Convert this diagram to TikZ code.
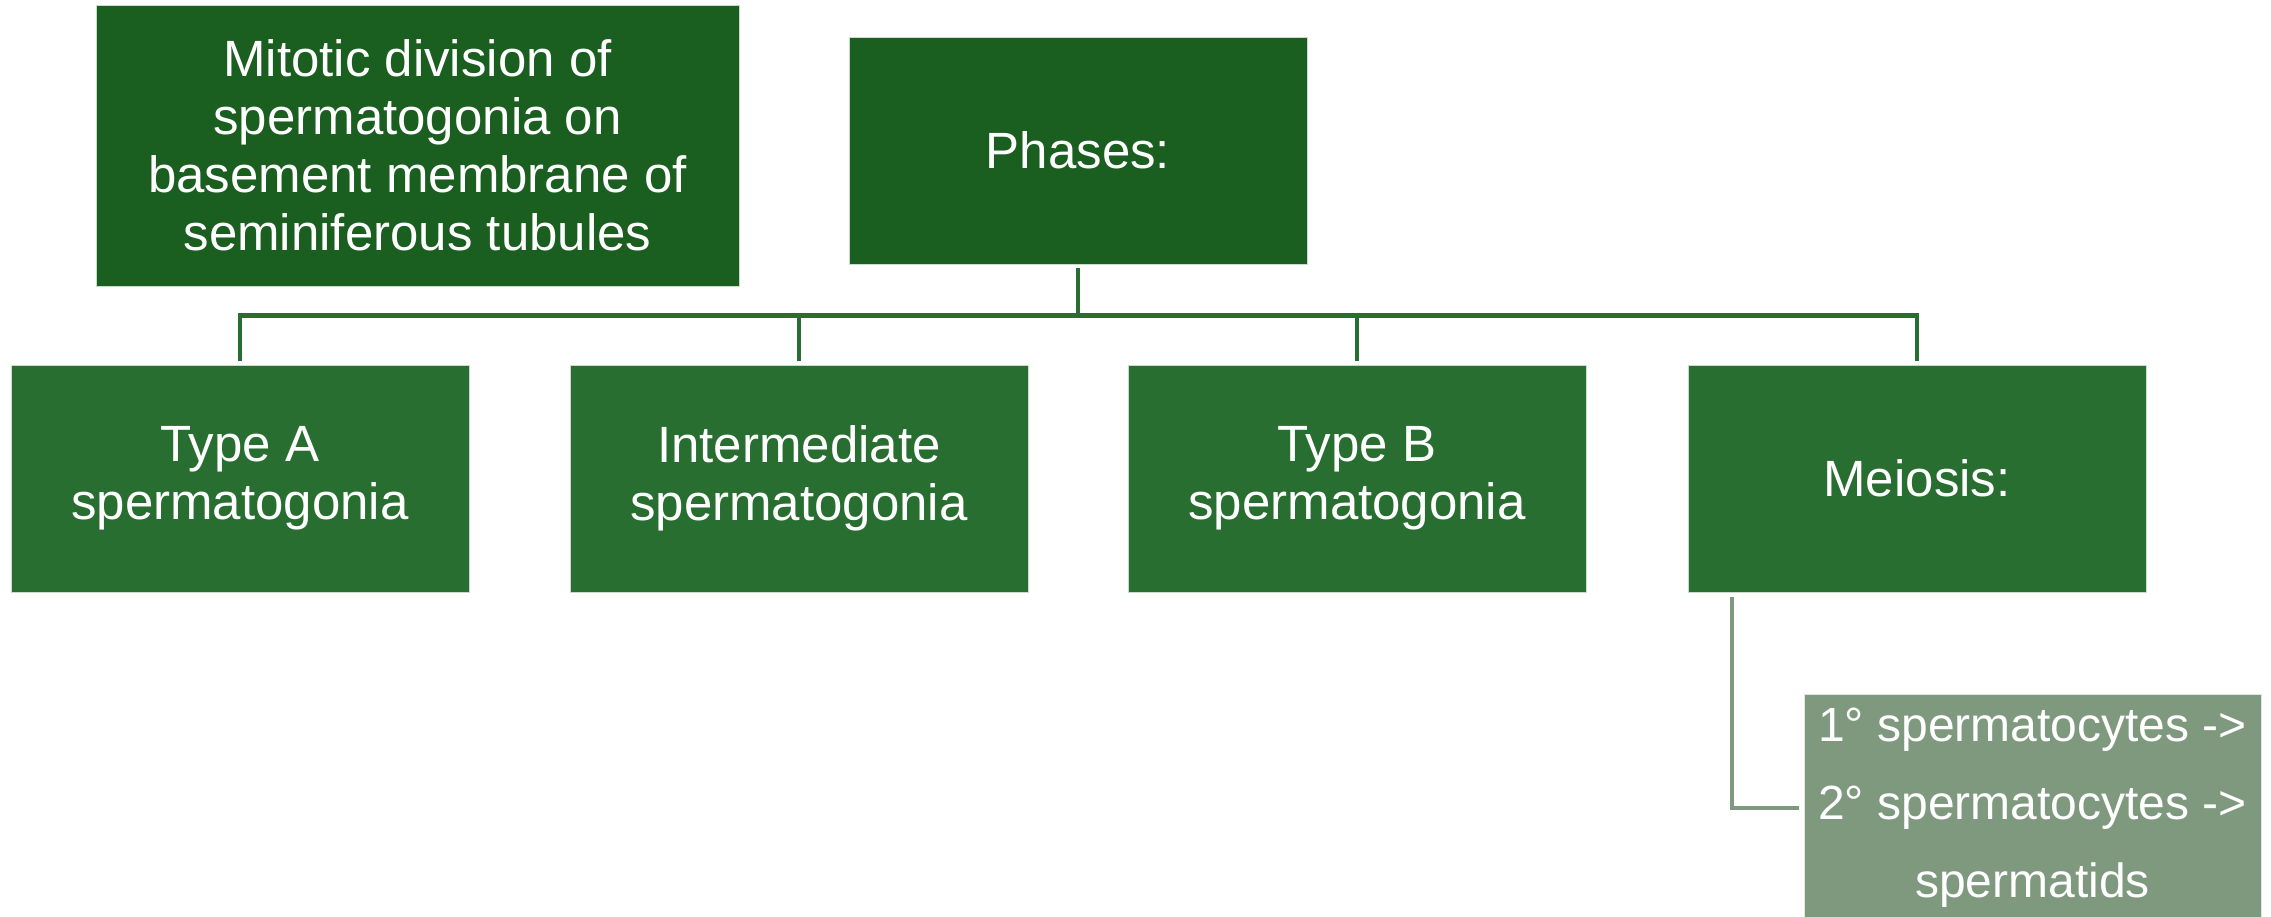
\documentclass[tikz,border=0pt]{standalone}
\usepackage{fontspec}
\setmainfont{Liberation Sans}
\definecolor{darkgr}{HTML}{1A5E20}
\definecolor{midgr}{HTML}{276E30}
\definecolor{greygr}{HTML}{7F997F}
\tikzset{
  box/.style={rectangle, draw=white!75!midgr, line width=0.8pt, text=white, align=center, inner sep=0pt,
    font=\fontsize{51}{58}\selectfont},
  topbox/.style={box, fill=darkgr},
  rowbox/.style={box, fill=midgr, minimum width=458pt, minimum height=227pt},
  subbox/.style={box, fill=greygr, draw=white!75!greygr, minimum width=457pt, minimum height=227pt,
    font=\fontsize{48}{78}\selectfont},
  conn/.style={draw=midgr, line width=4.5pt, shorten <=4pt, shorten >=4pt},
  conngrey/.style={draw=greygr, line width=4pt, shorten <=5pt, shorten >=5pt}
}
\begin{document}
\begin{tikzpicture}[x=1pt,y=-1pt]
\useasboundingbox (0,0) rectangle (2271,917);
\node[topbox, minimum width=643pt, minimum height=281pt] (mit) at (417.5,145.5)
  {Mitotic division of\\spermatogonia on\\basement membrane of\\seminiferous tubules};
\node[topbox, minimum width=458pt, minimum height=227pt] (phases) at (1078,150.5) {Phases:};
\node[rowbox] (typeA) at (240,478.5) {Type A\\spermatogonia};
\node[rowbox] (inter) at (799,478.5) {Intermediate\\spermatogonia};
\node[rowbox] (typeB) at (1357,478.5) {Type B\\spermatogonia};
\node[rowbox] (meiosis) at (1917,478.5) {Meiosis:};
\node[subbox] (sperm) at (2032.5,807.5) {1° spermatocytes ->\\2° spermatocytes ->\\spermatids};
\draw[conn] (phases.south) -- ++(0,51) -| (typeA.north);
\draw[conn] (phases.south) -- ++(0,51) -| (inter.north);
\draw[conn] (phases.south) -- ++(0,51) -| (typeB.north);
\draw[conn] (phases.south) -- ++(0,51) -| (meiosis.north);
\draw[conngrey] ([xshift=44pt]meiosis.south west) |- (sperm.west);
\end{tikzpicture}
\end{document}
